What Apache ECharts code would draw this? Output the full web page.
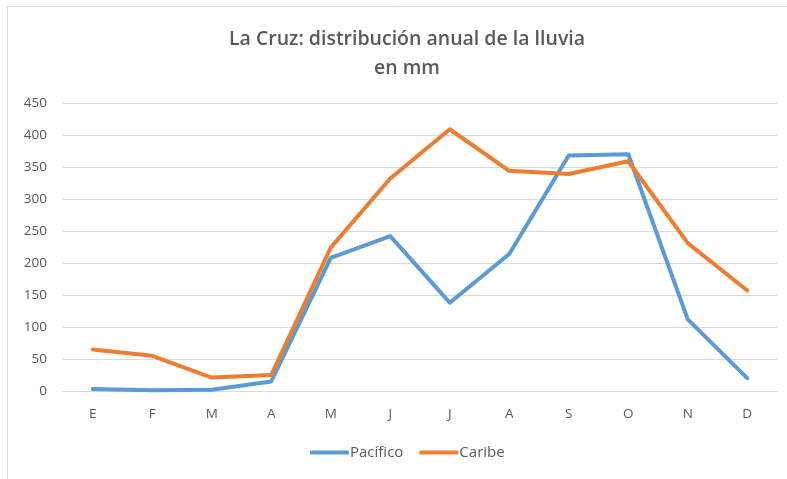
<!DOCTYPE html>
<html><head><meta charset="utf-8">
<script src="https://cdn.jsdelivr.net/npm/echarts@6/dist/echarts.min.js"></script>
<style>html,body{margin:0;padding:0;background:#fff}#c{width:787px;height:479px}</style>
</head><body><div id="c"></div>
<script>
const categories = ['E','F','M','A','M','J','J','A','S','O','N','D'];
const pacifico = [3, 1, 2, 15, 208, 242, 138, 214, 368, 370, 112, 20];
const caribe = [65, 55, 21, 25, 224, 332, 409, 344, 339, 359, 231, 157];
const yTicks = {min: 0, max: 450, interval: 50};

const chart = echarts.init(document.getElementById('c'), null, {renderer: 'canvas'});
chart.setOption({
  animation: false,
  backgroundColor: '#fff',
  graphic: [{type: 'rect', shape: {x: 7.5, y: 6.5, width: 790, height: 480}, style: {fill: 'none', stroke: '#d9d9d9', lineWidth: 1}}],
  title: {
    text: 'La Cruz: distribución anual de la lluvia\nen mm',
    left: 402, top: 20, textAlign: 'center',
    textStyle: {fontFamily: 'Open Sans', fontWeight: 600, fontSize: 19.5, color: '#595959', lineHeight: 29}
  },
  legend: {
    bottom: 14, left: 305,
    itemWidth: 39, itemHeight: 4, itemGap: 16,
    icon: 'roundRect',
    textStyle: {fontFamily: 'Open Sans', fontSize: 15, color: '#595959', padding: [0,0,0,-4]},
    data: ['Pacífico', 'Caribe']
  },
  grid: {left: 63, right: 10, top: 103, bottom: 88, containLabel: false},
  xAxis: {
    type: 'category', data: categories, boundaryGap: true,
    axisLine: {lineStyle: {color: '#d9d9d9'}}, axisTick: {show: false},
    axisLabel: {fontFamily: 'Open Sans', fontSize: 13.5, color: '#595959', margin: 16}
  },
  yAxis: {
    type: 'value', min: yTicks.min, max: yTicks.max, interval: yTicks.interval,
    axisLine: {show: false}, axisTick: {show: false},
    splitLine: {lineStyle: {color: '#d9d9d9', width: 1}},
    axisLabel: {fontFamily: 'Open Sans', fontSize: 13.5, color: '#595959', margin: 16}
  },
  series: [
    {name: 'Pacífico', type: 'line', data: pacifico, symbol: 'none', lineStyle: {width: 4, color: '#5B9BD5', cap: 'round', join: 'round'}, itemStyle: {color: '#5B9BD5'}},
    {name: 'Caribe', type: 'line', data: caribe, symbol: 'none', lineStyle: {width: 4, color: '#ED7D31', cap: 'round', join: 'round'}, itemStyle: {color: '#ED7D31'}}
  ]
});
</script></body></html>
